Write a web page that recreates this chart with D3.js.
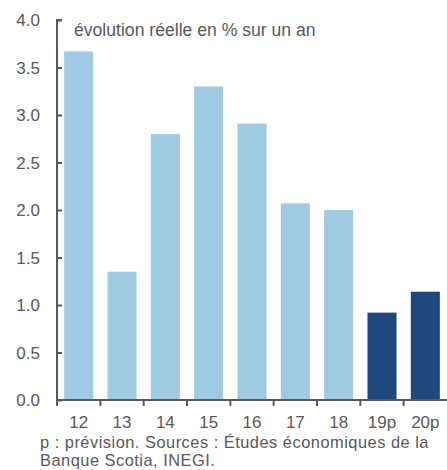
<!DOCTYPE html>
<html><head><meta charset="utf-8">
<script src="https://cdn.jsdelivr.net/npm/d3@7"></script>
<style>body{margin:0;background:#fff}svg{display:block;font-family:"Liberation Sans",Arial,sans-serif}</style>
</head><body><svg id="c" width="447" height="470"></svg>
<script>
const categories = ["12","13","14","15","16","17","18","19p","20p"];
const values = [3.67, 1.35, 2.80, 3.30, 2.91, 2.07, 2.00, 0.92, 1.14];
const forecast = [false,false,false,false,false,false,false,true,true];
const yTicks = [0,0.5,1,1.5,2,2.5,3,3.5,4];
const title = "évolution réelle en % sur un an";
const note = ["p : prévision. Sources : Études économiques de la", "Banque Scotia, INEGI."];

const svg = d3.select("#c");
const x = d3.scaleBand().domain(categories).range([57, 447]).paddingInner(0.33).paddingOuter(0.165);
const y = d3.scaleLinear().domain([0,4]).range([400, 20]);
const axisCol = "#595959", textCol = "#595959";

svg.selectAll("rect.bar").data(values).join("rect")
  .attr("x",(d,i)=>x(categories[i])).attr("width",x.bandwidth())
  .attr("y",d=>y(d)).attr("height",d=>y(0)-y(d))
  .attr("fill",(d,i)=>forecast[i]?"#1F497D":"#9ECAE3");

const ya = svg.append("g").attr("transform","translate(57,0)")
  .call(d3.axisRight(y).tickValues(yTicks).tickFormat(d3.format(".1f")).tickSize(5));
ya.select(".domain").attr("stroke",axisCol).attr("stroke-width",2).attr("d","M5,20H0V400");
ya.selectAll(".tick line").attr("stroke",axisCol).attr("stroke-width",2);
ya.selectAll(".tick text").attr("x",-17).attr("text-anchor","end").attr("fill",textCol).attr("font-size",17).attr("dy","0.35em");

const xa = svg.append("g").attr("transform","translate(0,400)")
  .call(d3.axisBottom(x).tickSize(0));
xa.select(".domain").attr("stroke",axisCol).attr("stroke-width",2).attr("d","M57,0H447");
xa.selectAll(".tick text").attr("fill",textCol).attr("font-size",17).attr("y",16);
const bounds = categories.map(c=>x(c)-x.step()*x.paddingInner()/2);
svg.append("g").selectAll("line").data(bounds).join("line")
  .attr("x1",d=>d).attr("x2",d=>d).attr("y1",400).attr("y2",406)
  .attr("stroke",axisCol).attr("stroke-width",2);

svg.append("text").attr("x",74).attr("y",36).attr("fill",textCol).attr("font-size",17.6).text(title);
svg.append("g").selectAll("text").data(note).join("text")
  .attr("x",40).attr("y",(d,i)=>447.5+i*18.8).attr("fill",textCol).attr("font-size",16.4)
  .attr("letter-spacing",0.5).text(d=>d);
</script></body></html>
